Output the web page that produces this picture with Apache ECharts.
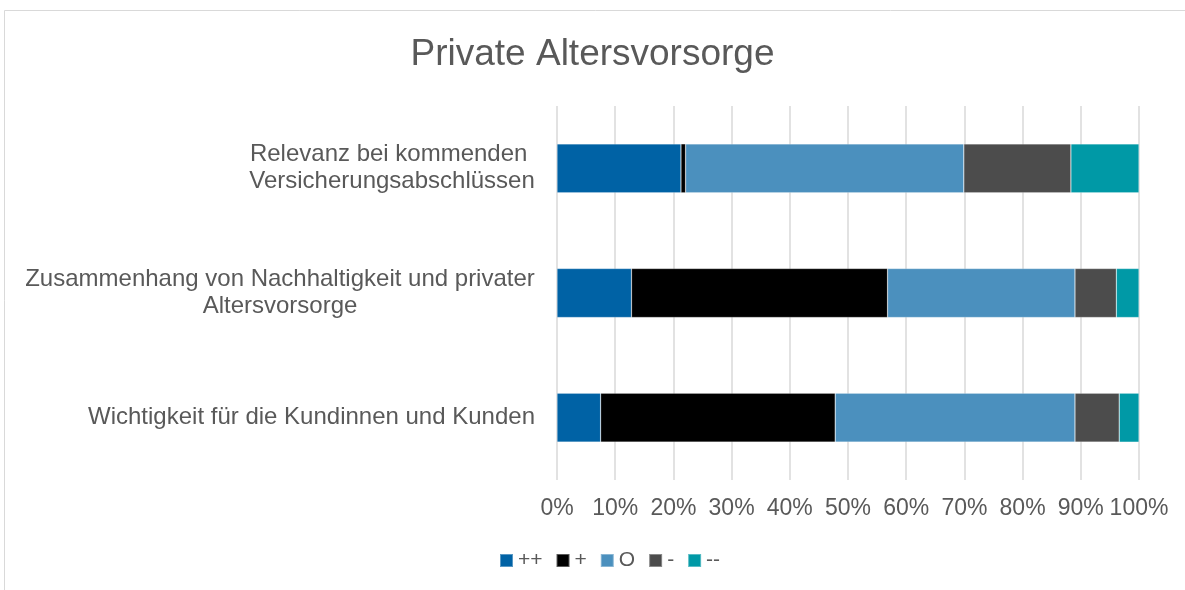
<!DOCTYPE html>
<html>
<head>
<meta charset="utf-8">
<script src="https://cdn.jsdelivr.net/npm/echarts@6/dist/echarts.min.js"></script>
<style>
  html, body { margin: 0; padding: 0; background: #fff; }
  #main { width: 1185px; height: 590px; }
</style>
</head>
<body>
<div id="main"></div>
<script>
// Kategorien (von unten nach oben, wie in der y-Achse)
var categories = [
  'Wichtigkeit für die Kundinnen und Kunden',
  'Zusammenhang von Nachhaltigkeit und privater\nAltersvorsorge',
  'Relevanz bei kommenden \nVersicherungsabschlüssen'
];
var seriesNames = ['++', '+', 'O', '-', '--'];

// Anteile in Prozent, je Kategorie
var valPlusPlus   = [7.5, 12.8, 21.3];
var valPlus       = [40.3, 44.0, 0.8];
var valNeutral    = [41.2, 32.2, 47.8];
var valMinus      = [7.6, 7.1, 18.4];
var valMinusMinus = [3.4, 3.9, 11.7];

var xTicks = [0, 10, 20, 30, 40, 50, 60, 70, 80, 90, 100];

var colors = ['#0062A5', '#000000', '#4B90BE', '#4C4C4C', '#0099A6'];
var allValues = [valPlusPlus, valPlus, valNeutral, valMinus, valMinusMinus];

var FONT = 'Liberation Sans, Arial, sans-serif';
var LABEL_SIZE = 24;

// Breite jeder Beschriftung messen, damit die Zeilen zentriert stehen (wie in Excel)
var ctx = document.createElement('canvas').getContext('2d');
ctx.font = LABEL_SIZE + 'px ' + FONT;
var rich = {};
categories.forEach(function (c, i) {
  var w = 0;
  c.split('\n').forEach(function (line) { w = Math.max(w, ctx.measureText(line).width); });
  rich['c' + i] = { width: Math.ceil(w), align: 'center', fontSize: LABEL_SIZE, lineHeight: 27, color: '#595959' };
});

var chart = echarts.init(document.getElementById('main'));

var series = seriesNames.map(function (name, i) {
  return {
    name: name,
    type: 'bar',
    stack: 'total',
    barWidth: 49,
    data: allValues[i],
    itemStyle: { color: colors[i], borderColor: 'rgba(255,255,255,0.35)', borderWidth: 0.6 }
  };
});

var option = {
  backgroundColor: '#fff',
  animation: false,
  textStyle: { fontFamily: FONT },
  title: {
    text: 'Private Altersvorsorge',
    left: 'center',
    top: 31,
    textStyle: { fontSize: 37, fontWeight: 'normal', color: '#595959', fontFamily: FONT }
  },
  legend: {
    bottom: 14,
    left: 494,
    itemWidth: 13,
    itemHeight: 13,
    itemGap: 13,
    icon: 'rect',
    textStyle: { fontSize: 21, color: '#595959' },
    data: seriesNames
  },
  grid: { left: 557, right: 46, top: 106, bottom: 110, containLabel: false },
  xAxis: {
    type: 'value',
    min: 0,
    max: 100,
    interval: 10,
    axisLine: { show: false },
    axisTick: { show: false },
    splitLine: { show: true, lineStyle: { color: '#d9d9d9', width: 1.5 } },
    axisLabel: {
      fontSize: 23,
      color: '#595959',
      margin: 17,
      formatter: function (v) { return xTicks.indexOf(v) >= 0 ? v + '%' : ''; }
    }
  },
  yAxis: {
    type: 'category',
    data: categories,
    axisLine: { show: false },
    axisTick: { show: false },
    axisLabel: {
      margin: 22,
      align: 'right',
      rich: rich,
      formatter: function (value, idx) {
        return value.split('\n').map(function (l) { return '{c' + idx + '|' + l + '}'; }).join('\n');
      }
    }
  },
  series: series,
  graphic: [{
    type: 'rect',
    shape: { x: 4.5, y: 10.5, width: 1200, height: 600 },
    style: { fill: 'none', stroke: '#d9d9d9', lineWidth: 1 },
    silent: true
  }]
};

chart.setOption(option);
</script>
</body>
</html>
